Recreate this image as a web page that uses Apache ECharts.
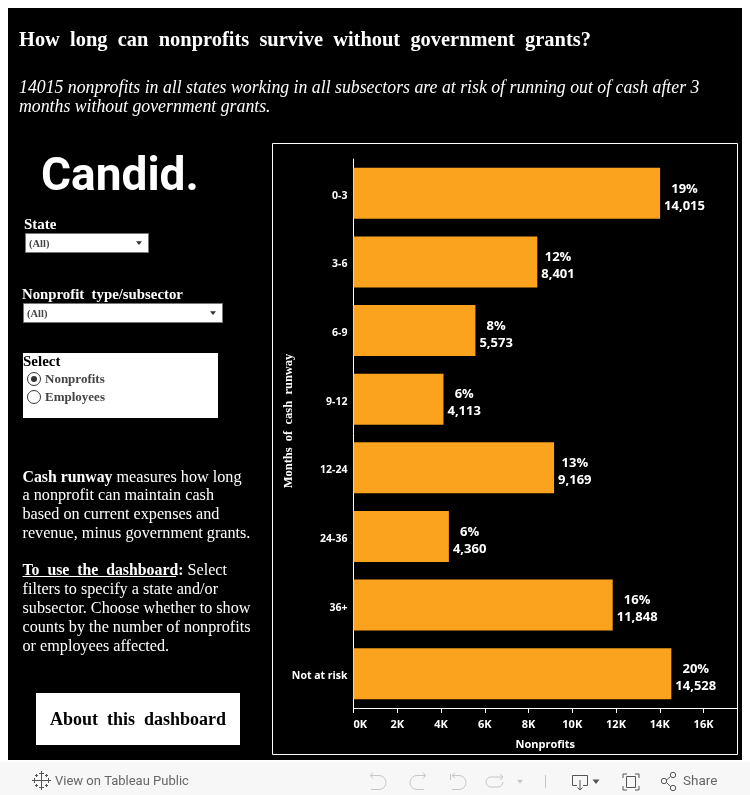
<!DOCTYPE html>
<html><head><meta charset="utf-8">
<style>html,body{margin:0;padding:0;background:#fff}#c{width:750px;height:795px}</style>
<script src="https://cdn.jsdelivr.net/npm/echarts@6/dist/echarts.min.js"></script>
</head><body><div id="c"></div>
<script>
const categories=['0-3','3-6','6-9','9-12','12-24','24-36','36+','Not at risk'];
const nonprofits=[14015,8401,5573,4113,9169,4360,11848,14528];
const percents=[19,12,8,6,13,6,16,20];
const tickValues=[0,2000,4000,6000,8000,10000,12000,14000,16000];
const titleText='How  long  can  nonprofits  survive  without  government  grants?';
const subtitleLines=['14015 nonprofits in all states working in all subsectors are at risk of running out of cash after 3','months without government grants.'];

const serif='"Liberation Serif"', sans='"Open Sans"', W='#fff', G='#c6c6c6', D='#555';
const txt=(x,y,text,font,fill,extra)=>Object.assign({type:'text',x,y,silent:true,style:Object.assign({text,font,fill:fill||W,verticalAlign:'middle'},extra||{})});
const rect=(x,y,w,h,fill,stroke)=>({type:'rect',silent:true,shape:{x,y,width:w,height:h},style:{fill:fill||'none',stroke:stroke||null,lineWidth:1}});
const line=(x1,y1,x2,y2,c,lw)=>({type:'line',silent:true,shape:{x1,y1,x2,y2},style:{stroke:c,lineWidth:lw||1}});
const poly=(points,c)=>({type:'polyline',silent:true,shape:{points},style:{fill:'none',stroke:c,lineWidth:1}});
const arc=(cx,cy,r,a0,a1,c)=>({type:'arc',silent:true,shape:{cx,cy,r,startAngle:a0,endAngle:a1,clockwise:true},style:{fill:'none',stroke:c,lineWidth:1}});
const tri=(x,y,s,c)=>({type:'polygon',silent:true,shape:{points:[[x-s,y-s*0.6],[x+s,y-s*0.6],[x,y+s*0.7]]},style:{fill:c}});
const circ=(cx,cy,r,fill,stroke)=>({type:'circle',silent:true,shape:{cx,cy,r},style:{fill,stroke:stroke||null,lineWidth:1}});
const P=Math.PI;

const body=[
 [477,'{b|Cash runway} measures how long'],
 [495,'a nonprofit can maintain cash'],
 [514,'based on current expenses and'],
 [533,'revenue, minus government grants.'],
 [570,'{b|To  use  the  dashboard:} Select'],
 [589,'filters to specify a state and/or'],
 [608,'subsector. Choose whether to show'],
 [627,'counts by the number of nonprofits'],
 [646,'or employees affected.']
];
const bodyEls=body.map(([y,t])=>txt(22.5,y+0.5,t,'16.2px '+serif,W,{rich:{b:{font:'bold 15.8px '+serif,fill:W}}}));
const cross=(x,y,r)=>[line(x,y-r,x,y+r,D),line(x-r,y,x+r,y,D)];

const decor=[
 rect(8,8,734,752,'#000'),
 rect(0,762,750,33,'#f7f7f7'),
 Object.assign(txt(19,40.5,titleText,'bold 22px '+serif),{scaleX:0.929}),
 Object.assign(txt(19,88.5,subtitleLines[0],'italic 18.6px '+serif),{scaleX:0.955}),
 Object.assign(txt(19,107.5,subtitleLines[1],'italic 18.6px '+serif),{scaleX:0.955}),
 rect(272.5,143.5,465,611,null,W),
 txt(41,178,'Candid.','bold 46px Roboto'),
 txt(24,225,'State','bold 15px '+serif),
 rect(25.5,233.5,123,19,W,'#777'),
 txt(29,244,'(All)','bold 10.5px '+serif,'#444'),
 tri(139,243,3,'#333'),
 txt(22,295,'Nonprofit  type/subsector','bold 14.8px '+serif),
 rect(23.5,303.5,199,19,W,'#777'),
 txt(27,314,'(All)','bold 10.5px '+serif,'#444'),
 tri(213,313,3,'#333'),
 rect(23,353,195,65,W),
 txt(23,362,'Select','bold 15px '+serif,'#000'),
 circ(34,379,6.5,W,'#333'),
 circ(34,379,3,'#333'),
 circ(34,397,6.5,W,'#333'),
 txt(45,379.5,'Nonprofits','bold 13px '+serif,'#444'),
 txt(45,397.5,'Employees','bold 13px '+serif,'#444'),
 ...bodyEls,
 line(22.5,576.5,176,576.5,W,1),
 rect(36,693,204,52,W),
 txt(138,720.5,'About  this  dashboard','bold 18px '+serif,'#000',{align:'center'}),
 Object.assign(txt(289,421,'Months  of  cash  runway','bold 12.5px '+serif,W,{align:'center'}),{rotation:P/2}),
 // toolbar
 ...cross(41.5,780.5,5),...cross(41.5,773.5,2.5),...cross(41.5,787.5,2.5),...cross(34.5,780.5,2.5),...cross(48.5,780.5,2.5),
 ...cross(36.5,775.5,1.5),...cross(46.5,775.5,1.5),...cross(36.5,785.5,1.5),...cross(46.5,785.5,1.5),
 txt(55,782,'View on Tableau Public','13px Roboto','#666'),
 poly([[373,772.5],[370.5,775.5],[373,778.5]],G),line(370.5,775.5,379,775.5,G),arc(379,782.5,7,-P/2,P/2,G),line(379,789.5,371,789.5,G),
 poly([[423,772.5],[425.5,775.5],[423,778.5]],G),line(425.5,775.5,417,775.5,G),arc(417,782.5,7,P/2,-P/2,G),line(417,789.5,424,789.5,G),
 line(450.5,774,450.5,780,G),poly([[455,773],[452,775.5],[455,778]],G),line(452,775.5,459,775.5,G),arc(459,782.5,7,-P/2,P/2,G),line(459,789.5,452,789.5,G),
 poly([[500,774],[503,777],[500,780]],G),line(503,777,491,777,G),arc(491,782,5,P/2,-P/2,G),line(491,787,498,787,G),arc(498,782,5,0,P/2,G),
 tri(520,781.5,3,G),
 line(545.5,775,545.5,788,G),
 poly([[577,785.5],[572.5,785.5],[572.5,775.5],[587.5,775.5],[587.5,785.5],[583,785.5]],D),line(580,780,580,790,D),poly([[577.5,787.5],[580,790],[582.5,787.5]],D),
 tri(596,781.5,3.5,D),
 poly([[627,774],[623,774],[623,778]],D),poly([[635,774],[639,774],[639,778]],D),poly([[623,786],[623,790],[627,790]],D),poly([[639,786],[639,790],[635,790]],D),
 rect(626.5,776.5,9,11,null,D),
 circ(673,775,2.7,'none',D),circ(664,781,2.7,'none',D),circ(673,788,2.7,'none',D),
 line(666.5,780,670.5,776.5,D),line(666.5,782.5,670.5,786.5,D),
 txt(683,782,'Share','13.5px Roboto','#666')
];

const chart=echarts.init(document.getElementById('c'),null,{renderer:'canvas'});
const tickFont={fontFamily:sans,fontWeight:700,color:W};
chart.setOption({
 animation:false,
 backgroundColor:'#fff',
 graphic:{elements:decor.map(e=>Object.assign({z:-1},e))},
 grid:{left:353.5,right:13,top:159,bottom:87,containLabel:false,z:5},
 xAxis:{type:'value',min:0,max:17530,interval:2000,
  name:'Nonprofits',nameLocation:'middle',nameGap:31,nameTextStyle:Object.assign({fontSize:11},tickFont),
  axisLine:{show:true,onZero:false,lineStyle:{color:W,width:1}},
  axisTick:{show:true,length:5,lineStyle:{color:W},customValues:tickValues},
  axisLabel:Object.assign({fontSize:11,margin:11,alignMinLabel:'left',customValues:tickValues,formatter:v=>(v/1000)+'K'},tickFont),
  splitLine:{show:false}},
 yAxis:{type:'category',inverse:true,data:categories,
  axisLine:{show:true,lineStyle:{color:W,width:1}},axisTick:{show:false},
  axisLabel:Object.assign({fontSize:10.5,margin:6,verticalAlign:'top',lineHeight:5},tickFont)},
 series:[{type:'bar',data:nonprofits,barWidth:51,itemStyle:{color:'#fba31f'},z:6,
  label:{show:true,position:'right',distance:4,align:'left',offset:[0,4],
   formatter:p=>'{a|'+percents[p.dataIndex]+'%}\n{a|'+p.value.toLocaleString('en-US')+'}',
   rich:{a:{fontFamily:sans,fontWeight:700,fontSize:13,lineHeight:17,color:W,align:'center'}}}}]
});
</script></body></html>
